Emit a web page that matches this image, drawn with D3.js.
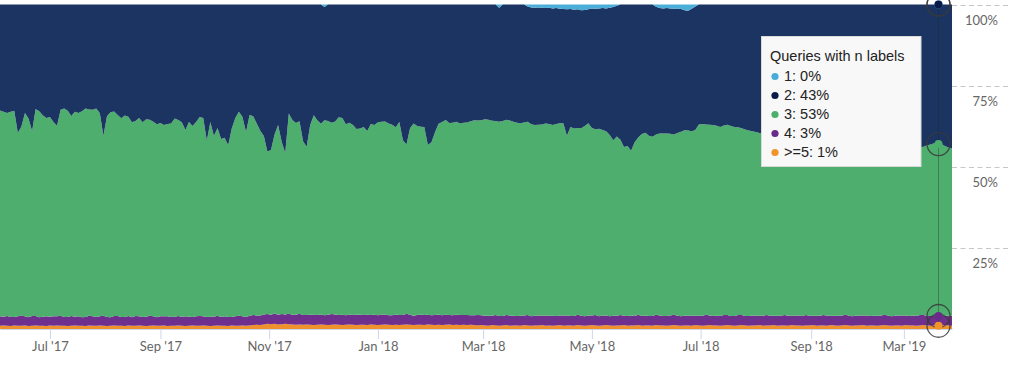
<!DOCTYPE html>
<html><head><meta charset="utf-8">
<script src="https://cdn.jsdelivr.net/npm/d3@7"></script>
<style>
html,body{margin:0;padding:0;background:#fff;}
svg{display:block;}
</style></head><body>
<svg id="chart" width="1024" height="372"></svg>
<script>
// ---- data ----
const seriesNames = ["1", "2", "3", "4", ">=5"];
const seriesColors = ["#4aaed9", "#1b3461", "#4eae6d", "#6f2f8c", "#ef912c"];
const dotColors = ["#45acd9", "#0c1c4a", "#4caf6c", "#6a2a8a", "#f0932b"];
const tooltipTitle = "Queries with n labels";
// sampled every 2 days, two periods with a gap in between
const periods = [["2017-06-03", 248], ["2019-02-18", 20]];
const stepDays = 2;
const tickDates = ["2017-07-01", "2017-09-01", "2017-11-01", "2018-01-01", "2018-03-01", "2018-05-01", "2018-07-01", "2018-09-01", "2019-03-01"];
const tickLabels = ["Jul '17", "Sep '17", "Nov '17", "Jan '18", "Mar '18", "May '18", "Jul '18", "Sep '18", "Mar '19"];
const yTickValues = [0.25, 0.5, 0.75, 1];
const yTickLabels = ["25%", "50%", "75%", "100%"];
const hoverIndex = 263;

const lightBlue = [
0,0,0,0,0,0,0,0,0,0, 0,0,0,0,0,0,0,0,0,0, 0,0,0,0,0,0,0,0,0,0,
0,0,0,0,0,0,0,0,0,0, 0,0,0,0,0,0,0,0,0,0, 0,0,0,0,0,0,0,0,0,0,
0,0,0,0,0,0,0,0,0,0, 0,0,0,0,0,0,0,0,0,0, 0,0,0,0,0,0,0,0,0,0,
0,0.8,0,0,0,0,0,0,0,0,
0,0,0,0,0,0,0,0,0,0, 0,0,0,0,0,0,0,0,0,0, 0,0,0,0,0,0,0,0,0,0, 0,0,0,0,0,0,0,0,0,0,
1.0,0,0,0,0,0,0,0,0.6,0.9,
1.0,0.9,1.0,1.1,1.0,1.2,1.1,1.3,1.4,1.5,
1.4,1.6,1.5,1.8,1.7,1.5,1.2,1.3,1.2,1.1,
1.2,1.0,0.8,0.4,0,0,0,0,0,0,
0,0,0,0,0.7,1.1,1.2,1.1,1.2,1.3,
1.2,1.4,1.8,1.9,1.3,0.6,0,0,0,0,
0,0,0,0,0,0,0,0,0,0, 0,0,0,0,0,0,0,0,0,0, 0,0,0,0,0,0,0,0,0,0,
0,0,0,0,0,0,0,0,0,0, 0,0,0,0,0,0,0,0,0,0, 0,0,0,0,0,0,0,0,0,0,
0,0,0,0,0,0,0,0
];
const navy = [
32.7,33.0,33.5,33.0,32.7,39.6,37.7,33.4,35.0,39.0,
32.2,32.8,34.1,35.0,34.6,36.2,37.4,32.5,32.0,32.7,
34.4,33.0,33.4,32.8,32.0,32.4,32.4,32.0,33.5,40.5,
34.4,33.1,33.0,34.1,35.0,34.1,34.6,36.2,35.9,35.0,
36.2,35.3,35.6,36.1,36.8,36.5,37.1,36.8,36.6,35.1,
35.6,36.2,38.7,36.2,37.4,36.2,34.7,35.0,41.8,36.2,
40.5,38.1,41.4,41.1,43.3,38.1,35.0,33.1,34.7,39.2,
34.1,34.6,36.8,39.0,40.8,45.4,44.8,40.2,37.1,42.4,
45.8,33.7,35.6,36.5,36.1,42.1,43.8,37.1,34.1,35.6,
36.8,34.8,35.9,36.5,36.1,34.7,35.0,36.8,36.5,37.1,
38.4,38.2,37.7,39.0,36.8,37.1,36.2,36.2,36.1,36.6,
37.0,37.9,36.2,41.8,43.3,38.1,36.6,37.4,37.7,37.7,
43.3,42.4,39.3,36.8,36.1,35.6,36.5,36.4,36.2,36.6,
36.4,36.3,35.9,35.6,35.7,35.6,35.4,35.5,35.8,36.0,
35.1,35.9,35.6,35.8,36.1,36.4,36.6,36.4,35.6,35.9,
36.1,36.2,36.0,35.6,35.8,35.9,35.7,35.3,35.2,39.0,
36.3,36.6,36.7,36.3,35.7,35.1,36.9,37.2,37.0,37.6,
37.9,39.1,41.0,40.3,41.8,43.9,43.6,45.1,42.4,41.1,
39.9,39.6,40.4,40.7,39.5,38.7,38.5,38.6,38.7,38.9,
38.4,37.7,37.0,36.9,37.8,38.1,37.0,36.8,37.1,37.1,
37.1,37.4,37.7,37.4,37.1,37.4,37.7,37.9,38.2,38.5,
38.8,39.1,39.3,39.6,39.8,39.9,39.6,40.1,40.2,39.9,
40.4,40.5,40.2,40.7,40.8,40.5,41.0,41.1,40.8,41.4,
41.3,41.6,41.8,41.4,41.9,42.1,41.8,42.2,42.4,42.1,
42.5,42.7,42.4,42.8,43.0,42.7,43.1,43.3,43.6,43.3,
43.8,43.9,43.6,43.9,44.1,43.8,43.9,44.2,44.1,43.9,
43.3,43.1,42.8,43.0,43.0,43.6,44.1,44.4
];
const green = [
63.4,63.1,62.6,63.1,63.4,56.5,58.4,62.7,61.1,57.1,
63.9,63.3,62.0,61.1,61.5,59.9,58.7,63.6,64.1,63.4,
61.7,63.1,62.7,63.3,64.1,63.7,63.7,64.1,62.6,55.6,
61.7,63.0,63.1,62.0,61.1,62.0,61.5,59.9,60.2,61.1,
59.9,60.8,60.5,60.0,59.3,59.6,59.0,59.3,59.5,61.0,
60.5,59.9,57.4,59.9,58.7,59.9,61.4,61.1,54.3,59.9,
55.6,58.0,54.7,55.0,52.8,58.0,61.1,63.0,61.4,56.9,
62.0,61.5,59.3,57.1,55.3,50.2,50.8,55.4,58.5,53.2,
49.8,61.9,60.0,59.1,59.5,53.5,51.8,58.5,61.5,60.0,
58.8,60.0,59.7,59.1,59.5,60.9,60.6,58.8,59.1,58.5,
57.2,57.4,57.9,56.6,58.8,58.5,59.4,59.4,59.5,59.0,
58.6,57.7,59.4,53.8,52.3,57.5,59.0,58.2,57.9,57.9,
52.3,53.2,56.3,58.8,59.5,60.0,59.1,59.2,59.4,59.0,
59.2,59.3,59.7,60.0,59.9,60.0,60.5,60.4,60.1,59.9,
59.8,60.0,60.3,60.1,59.8,59.5,59.3,59.5,59.7,59.1,
58.8,58.8,58.9,59.2,59.1,58.8,59.1,59.3,59.3,55.4,
58.2,57.7,57.7,57.8,58.5,59.3,57.8,57.4,57.7,57.2,
56.8,55.8,54.1,55.2,54.1,52.0,52.3,50.8,53.5,54.8,
56.0,56.3,55.5,55.2,55.7,56.1,56.2,56.2,56.0,55.7,
56.3,56.8,57.1,57.1,56.8,57.2,58.9,59.1,58.8,58.8,
58.8,58.5,58.2,58.5,58.8,58.5,58.2,58.0,57.7,57.4,
57.1,56.8,56.6,56.3,56.1,56.0,56.3,55.8,55.7,56.0,
55.5,55.4,55.7,55.2,55.1,55.4,54.9,54.8,55.1,54.5,
54.6,54.3,54.1,54.5,54.0,53.8,54.1,53.7,53.5,53.8,
53.4,53.2,53.5,53.1,52.9,53.2,52.8,52.6,52.3,52.6,
52.1,52.0,52.3,52.0,51.8,52.1,52.0,51.7,51.8,52.0,
52.6,52.8,53.1,53.0,52.9,52.3,51.8,51.5
];
const purple = [
2.9,2.7,3.0,2.8,2.6,2.9,3.1,2.8,2.7,3.0,
2.9,2.6,2.8,3.0,2.7,2.9,2.8,3.1,2.7,2.8,
3.0,2.7,2.9,2.6,2.8,3.0,2.9,2.7,2.8,3.1,
2.8,2.6,2.9,3.0,2.7,2.8,2.9,2.6,3.0,2.8,
2.7,2.9,3.1,2.8,2.6,2.9,2.8,3.0,2.7,2.8,
2.9,2.7,3.0,2.8,2.6,2.9,3.0,2.8,2.7,2.9,
2.8,3.0,2.7,2.9,2.8,2.6,2.9,3.1,2.8,2.7,
3.0,3.1,2.9,3.0,3.1,
3.0,2.9,3.2,3.0,3.1,2.9,3.2,3.0,3.1,3.3,
3.0,2.9,3.1,3.2,3.0,3.1,2.9,3.2,3.3,3.1,
3.0,3.2,2.9,3.1,3.0,3.3,3.1,3.0,3.2,2.9,
3.1,3.0,3.2,3.1,2.9,3.0,3.2,3.1,3.0,3.3,
3.1,2.9,3.0,3.2,3.1,3.0,2.9,3.1,3.2,3.0,
3.1,2.9,3.0,3.2,3.1,3.0,3.1,2.9,3.0,3.2,
3.0,
3.0,3.1,2.9,3.2,3.0,2.9,3.1,3.2,3.0,2.9,
3.1,3.0,3.2,2.9,3.0,3.1,2.9,3.2,3.0,3.1,
2.9,3.0,3.2,3.1,2.9,3.0,3.2,3.0,2.9,3.1,
3.0,3.2,2.9,3.1,3.0,2.8,3.1,3.0,3.2,2.9,
3.0,3.1,2.9,3.2,3.0,3.1,2.9,3.0,3.2,3.1,
2.9,3.0,3.1,3.2,3.0,2.9,3.1,3.0,3.2,2.9,
3.0,3.1,3.3,3.0,2.9,3.1,3.0,3.2,3.1,2.9,
3.0,3.2,3.1,2.9,3.0,3.1,3.0,2.9,3.1,3.2,
3.0,2.9,3.1,3.0,3.2,3.1,2.9,3.0,3.1,3.0,
3.2,3.0,2.9,3.1,3.0,3.2,3.1,2.9,3.0,3.1,
3.0,3.2,3.1,2.9,3.0,3.1,3.0,3.2,2.9,3.0,
3.1,3.0,3.2,3.1,2.9,3.0,3.1,3.2,3.0,2.9,
3.1,3.0,3.2,3.1,2.9,3.0,3.1,3.0,3.1,2.9,
3.0,3.1
];
const orange = [
1.0,1.1,1.0,0.9,1.1,1.0,1.0,1.1,0.9,1.0,
1.1,1.0,1.0,0.9,1.1,1.0,1.1,1.0,1.0,0.9,
1.0,1.1,1.0,1.0,0.9,1.1,1.0,1.0,1.1,1.0,
0.9,1.0,1.1,1.0,1.0,0.9,1.1,1.0,1.0,1.1,
1.0,0.9,1.0,1.1,1.0,1.0,1.1,0.9,1.0,1.0,
1.1,1.0,0.9,1.0,1.1,1.0,1.0,1.1,1.0,0.9,
1.0,1.1,1.0,1.0,0.9,1.1,1.0,1.0,1.1,1.0,
1.1,1.2,1.3,1.2,1.4,
1.6,1.5,1.6,1.4,1.5,1.6,1.5,1.4,1.3,1.4,
1.3,1.4,1.3,1.2,1.3,1.4,1.3,1.2,1.3,1.4,
1.3,1.2,1.3,1.4,1.3,1.2,1.3,1.3,1.2,1.4,
1.3,1.2,1.3,1.4,1.3,1.2,1.3,1.2,1.3,1.4,
1.3,1.2,1.3,1.3,1.2,1.4,1.3,1.2,1.3,1.2,
1.3,1.4,1.2,1.3,1.2,1.3,1.2,1.3,1.2,1.1,
1.2,
1.1,1.0,1.2,1.1,1.0,1.1,1.2,1.0,1.1,1.1,
1.0,1.2,1.1,1.0,1.1,1.1,1.2,1.0,1.1,1.0,
1.1,1.2,1.0,1.1,1.1,1.0,1.2,1.1,1.0,1.1,
1.2,1.1,1.0,1.1,1.2,1.1,1.0,1.1,1.1,1.2,
1.0,1.1,1.1,1.2,1.0,1.1,1.1,1.0,1.2,1.1,
1.1,1.0,1.1,1.2,1.1,1.0,1.1,1.1,1.0,1.2,
1.1,1.0,1.1,1.2,1.1,1.1,1.0,1.1,1.2,1.1,
1.0,1.1,1.2,1.1,1.0,1.1,1.1,1.2,1.0,1.1,
1.1,1.2,1.0,1.1,1.1,1.0,1.2,1.1,1.1,1.0,
1.1,1.1,1.2,1.0,1.1,1.1,1.0,1.2,1.1,1.0,
1.1,1.2,1.1,1.0,1.1,1.1,1.2,1.0,1.1,1.1,
1.0,1.1,1.2,1.1,1.0,1.1,1.1,1.0,1.2,1.1,
1.1,1.0,1.1,1.2,1.1,1.0,1.1,1.0,1.1,1.2,
1.1,1.0
];
const seriesValues = [lightBlue, navy, green, purple, orange];

// ---- layout ----
const svg = d3.select("#chart");
const plot = {left: 0, right: 952, top: 4.5, bottom: 329};
const N = green.length;

const dayMs = 86400000;
function dateToIndex(ds) {
  const t = Date.parse(ds + "T00:00:00Z");
  let offset = 0;
  for (const [start, n] of periods) {
    const k = (t - Date.parse(start + "T00:00:00Z")) / (dayMs * stepDays);
    if (k >= -0.5 && k <= n - 0.5) return offset + k;
    offset += n;
  }
  return null;
}

const x = d3.scaleLinear().domain([0, N - 1]).range([plot.left, plot.right]);
const y = d3.scaleLinear().domain([0, 1]).range([plot.bottom, plot.top]);

const rows = d3.range(N).map(i => {
  const r = {};
  seriesValues.forEach((arr, s) => r[s] = arr[i]);
  return r;
});
const stack = d3.stack().keys([4, 3, 2, 1, 0]).offset(d3.stackOffsetExpand);
const layers = stack(rows);

// gridlines
svg.append("g").selectAll("line").data(yTickValues).join("line")
  .attr("x1", plot.left).attr("x2", 1010)
  .attr("y1", d => Math.round(y(d)) + 0.5).attr("y2", d => Math.round(y(d)) + 0.5)
  .attr("stroke", "#c6c6c6").attr("stroke-width", 1).attr("stroke-dasharray", "5,3.5");

// areas
const area = d3.area()
  .x((d, i) => x(i))
  .y0(d => y(d[0]))
  .y1(d => y(d[1]));
svg.append("g").selectAll("path").data(layers).join("path")
  .attr("d", area)
  .attr("fill", d => seriesColors[d.key]);

// y labels
svg.append("g").selectAll("text").data(yTickValues).join("text")
  .attr("x", 998).attr("y", d => y(d) + 20.5)
  .attr("text-anchor", "end")
  .attr("font-family", "Lato, 'Open Sans', sans-serif").attr("font-size", 13)
  .attr("fill", "#666")
  .text((d, i) => yTickLabels[i]);

// x axis
const xAxis = d3.axisBottom(x)
  .tickValues(tickDates.map(dateToIndex))
  .tickFormat((d, i) => tickLabels[i])
  .tickSizeOuter(0).tickSizeInner(10).tickPadding(3);
const gx = svg.append("g").attr("transform", `translate(0,${plot.bottom})`).call(xAxis);
gx.select(".domain").attr("stroke", "#ccd6eb");
gx.selectAll(".tick line").attr("stroke", "#ccd6eb");
gx.selectAll(".tick text")
  .attr("font-family", "Lato, 'Open Sans', sans-serif").attr("font-size", 13)
  .attr("fill", "#666");

// crosshair
const hx = Math.round(x(hoverIndex)) + 0.5;
svg.append("line")
  .attr("x1", hx).attr("x2", hx).attr("y1", plot.top).attr("y2", plot.bottom)
  .attr("stroke", "rgba(20,40,40,0.35)").attr("stroke-width", 1);

// hover markers (draw bottom series first, navy last on top)
const markerOrder = [4, 3, 2, 0, 1];
const markers = markerOrder.map(s => {
  const layer = layers.find(l => l.key === s);
  return {s, cy: y(layer[hoverIndex][1])};
});
const mg = svg.append("g");
markers.forEach(m => {
  mg.append("circle").attr("cx", hx).attr("cy", m.cy).attr("r", 11.5)
    .attr("fill", "none").attr("stroke", "#3a3a3a").attr("stroke-opacity", 0.85).attr("stroke-width", 1.3);
});
markers.forEach(m => {
  mg.append("circle").attr("cx", hx).attr("cy", m.cy).attr("r", 4)
    .attr("fill", dotColors[m.s]);
});

// tooltip
const tot = d3.sum(seriesValues, arr => arr[hoverIndex]);
const tip = svg.append("g").attr("transform", "translate(761.5,36.5)");
tip.append("rect").attr("width", 159.5).attr("height", 130)
  .attr("fill", "#f8f8f8")
  .attr("stroke", "#d9d9d9").attr("stroke-width", 1);
tip.append("text").attr("x", 8.5).attr("y", 24)
  .attr("font-family", "'Liberation Sans', Arial, sans-serif").attr("font-size", 14.5)
  .attr("fill", "#222").text(tooltipTitle);
seriesNames.forEach((name, s) => {
  const ty = 44.5 + s * 19;
  tip.append("circle").attr("cx", 13.5).attr("cy", ty - 4.5).attr("r", 3.6).attr("fill", dotColors[s]);
  tip.append("text").attr("x", 22.5).attr("y", ty)
    .attr("font-family", "'Liberation Sans', Arial, sans-serif").attr("font-size", 14.5)
    .attr("fill", "#222")
    .text(`${name}: ${Math.round(seriesValues[s][hoverIndex] / tot * 100)}%`);
});
</script>
</body></html>
